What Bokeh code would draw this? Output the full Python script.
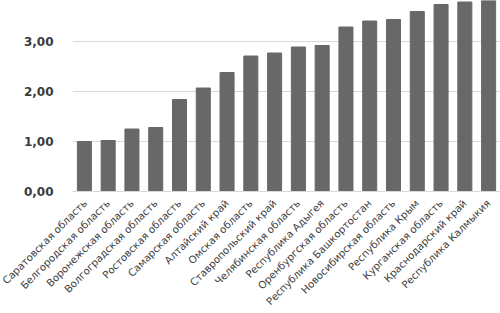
from math import pi
from bokeh.plotting import figure
from bokeh.models import ColumnDataSource, CustomJSTickFormatter, FixedTicker, Range1d
from bokeh.embed import file_html
from bokeh.resources import INLINE

regions = [
    "Саратовская область", "Белгородская область", "Воронежская область",
    "Волгоградская область", "Ростовская область", "Самарская область",
    "Алтайский край", "Омская область", "Ставропольский край",
    "Челябинская область", "Республика Адыгея", "Оренбургская область",
    "Республика Башкортостан", "Новосибирская область", "Республика Крым",
    "Курганская область", "Краснодарский край", "Республика Калмыкия",
]
values = [1.00, 1.02, 1.25, 1.28, 1.84, 2.07, 2.38, 2.71, 2.77,
          2.89, 2.92, 3.29, 3.41, 3.44, 3.60, 3.74, 3.79, 3.90]
y_ticks = [0, 1, 2, 3]

src = ColumnDataSource(dict(x=regions, top=values))

p = figure(x_range=regions, y_range=Range1d(0, 3.82), width=500, height=313,
           output_backend="svg", toolbar_location=None,
           min_border_left=72, min_border_right=0, min_border_top=0, min_border_bottom=122)
p.vbar(x="x", top="top", width=0.59, source=src, color="#686868")

p.outline_line_color = None
p.background_fill_color = "white"
p.border_fill_color = "white"
p.xgrid.grid_line_color = None
p.ygrid.grid_line_color = "#d9d9d9"
p.ygrid.grid_line_width = 1

p.yaxis.ticker = FixedTicker(ticks=y_ticks)
p.yaxis.formatter = CustomJSTickFormatter(code="return tick.toFixed(2).replace('.', ',');")
p.yaxis.axis_line_color = None
p.yaxis.major_tick_line_color = None
p.yaxis.minor_tick_line_color = None
p.yaxis.major_label_text_font = "DejaVu Sans"
p.yaxis.major_label_text_font_size = "12px"
p.yaxis.major_label_text_font_style = "bold"
p.yaxis.major_label_text_color = "#3a3a3a"
p.yaxis.major_label_standoff = 13

p.xaxis.axis_line_color = "#d9d9d9"
p.xaxis.major_tick_line_color = None
p.xaxis.minor_tick_line_color = None
p.xaxis.major_label_orientation = pi / 4
p.xaxis.major_label_text_font = "DejaVu Sans"
p.xaxis.major_label_text_font_size = "10.2px"
p.xaxis.major_label_text_color = "#404040"
p.xaxis.major_label_standoff = 4

open("out.html", "w").write(file_html(p, INLINE))
